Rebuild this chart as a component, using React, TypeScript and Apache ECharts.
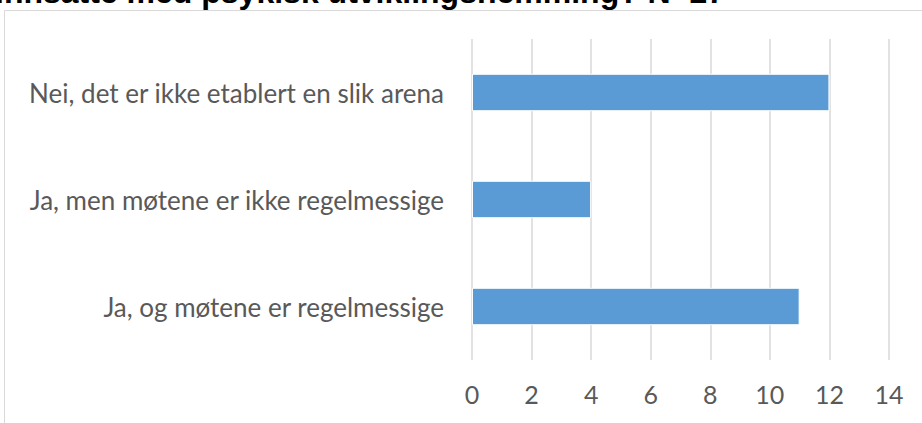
import React, { useEffect, useRef } from "react";
import * as echarts from "echarts";

const categories = [
  "Nei, det er ikke etablert en slik arena",
  "Ja, men møtene er ikke regelmessige",
  "Ja, og møtene er regelmessige",
];
const values = [12, 4, 11];
const titleText = "innsatte med psykisk utviklingshemming? N=27";

export default function App() {
  const ref = useRef<HTMLDivElement>(null);
  useEffect(() => {
    if (!ref.current) return;
    const chart = echarts.init(ref.current, null, { renderer: "svg" });
    chart.setOption({
      animation: false,
      backgroundColor: "#ffffff",
      grid: { left: 472, right: 33, top: 39, bottom: 63, containLabel: false },
      xAxis: {
        type: "value",
        min: 0,
        max: 14,
        interval: 2,
        axisLine: { show: false },
        axisTick: { show: false },
        splitLine: { show: true, lineStyle: { color: "#D9D9D9", width: 1.5 } },
        axisLabel: {
          color: "#595959",
          fontFamily: "Lato, sans-serif",
          fontSize: 25,
          margin: 21,
        },
      },
      yAxis: {
        type: "category",
        inverse: true,
        data: categories,
        axisLine: { show: false },
        axisTick: { show: false },
        splitLine: { show: false },
        axisLabel: {
          color: "#595959",
          fontFamily: "Lato, sans-serif",
          fontSize: 26,
          margin: 28,
        },
      },
      series: [
        {
          type: "bar",
          data: values,
          barCategoryGap: "65%",
          itemStyle: { color: "#5B9BD5", borderColor: "#ffffff", borderWidth: 1 },
        },
      ],
      graphic: [
        {
          type: "rect",
          shape: { x: 4.5, y: 10.5, width: 1000, height: 1000 },
          style: { fill: "none", stroke: "#D9D9D9", lineWidth: 1 },
          silent: true,
          z: -1,
        },
        {
          type: "text",
          x: 725,
          y: 8,
          style: {
            text: titleText,
            fill: "#000000",
            font: "bold 32px 'Liberation Sans', Arial, sans-serif",
            textAlign: "right",
            textVerticalAlign: "bottom",
          },
        },
      ],
    });
    return () => chart.dispose();
  }, []);
  return (
    <div
      ref={ref}
      style={{ position: "fixed", left: 0, top: 0, width: 922, height: 423 }}
    />
  );
}
